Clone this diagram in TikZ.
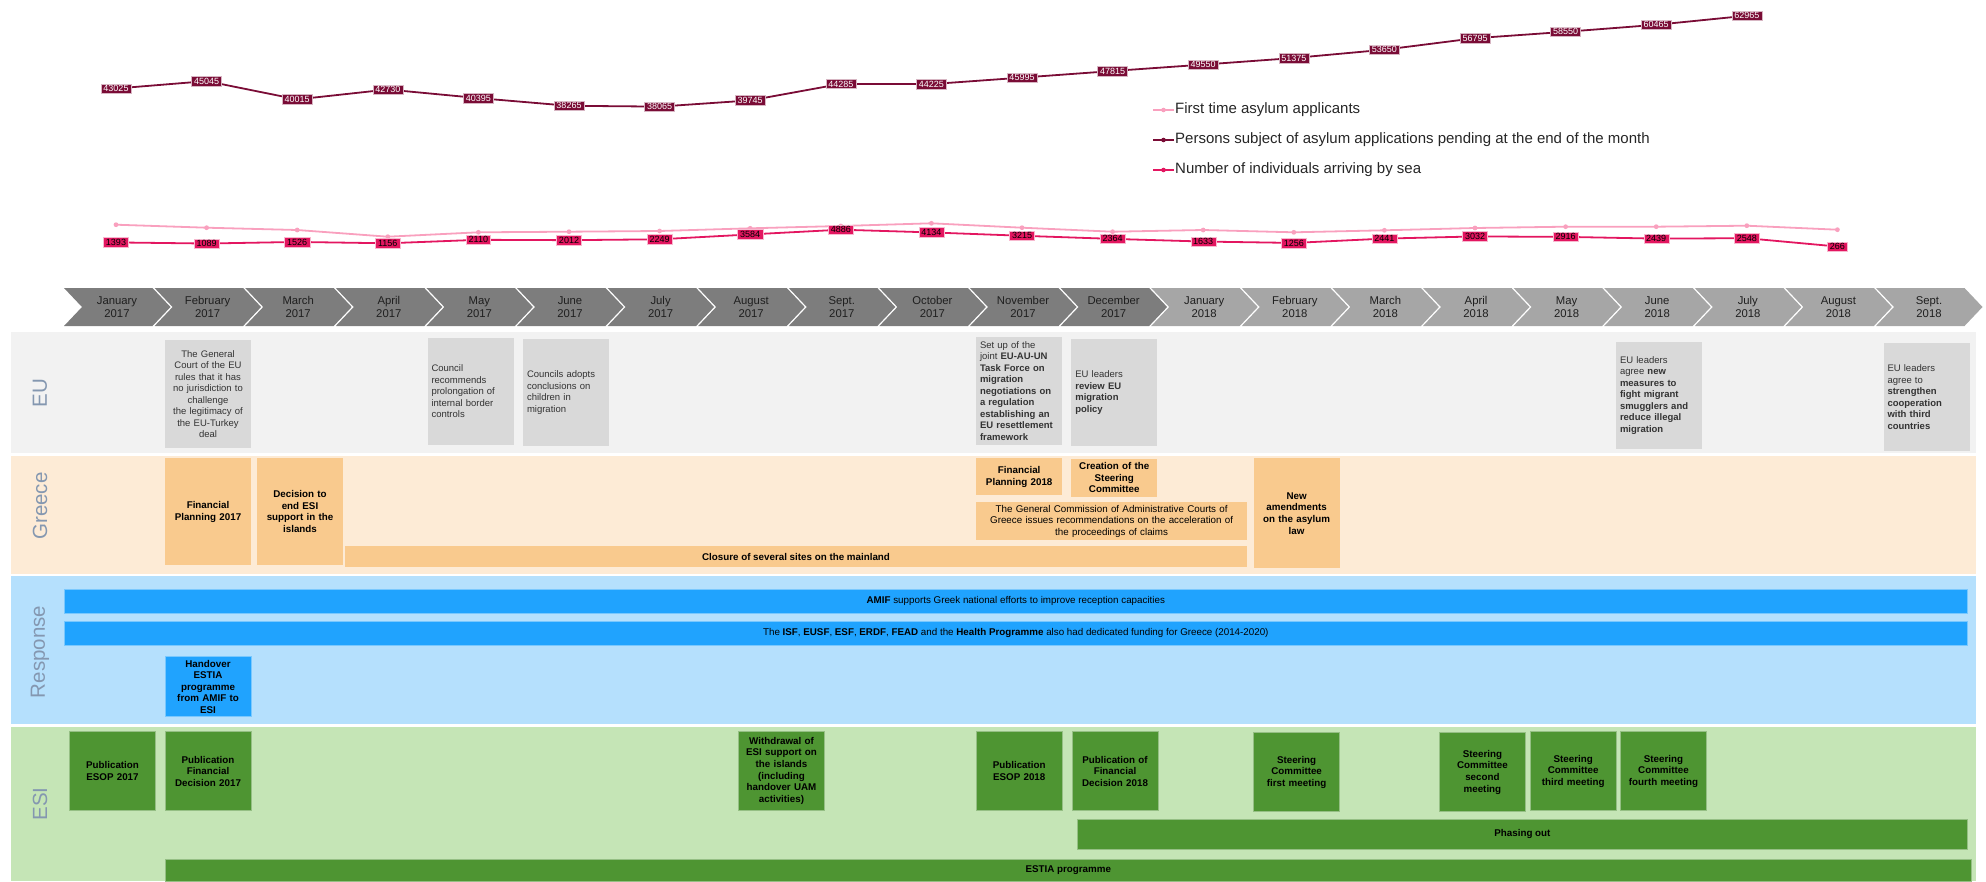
\documentclass[tikz,border=0pt]{standalone}
\usepackage{fontspec}
\setmainfont{Liberation Sans}

\definecolor{pendcol}{RGB}{122,12,54}
\definecolor{seacol}{RGB}{227,22,96}
\definecolor{firstcol}{RGB}{249,160,190}
\definecolor{chev2017}{RGB}{125,125,125}
\definecolor{chev2018}{RGB}{166,166,166}
\definecolor{rowgrey}{RGB}{132,151,176}
\definecolor{eubg}{RGB}{242,242,242}
\definecolor{eufill}{RGB}{217,217,217}
\definecolor{grbg}{RGB}{253,235,214}
\definecolor{grfill}{RGB}{249,202,142}
\definecolor{rebg}{RGB}{181,224,253}
\definecolor{refill}{RGB}{32,163,254}
\definecolor{esbg}{RGB}{197,229,182}
\definecolor{esfill}{RGB}{78,149,50}

% value/y of the pending applications (values too large for pgfmath)
\newcommand\penddata{43025/88.5,45045/81.1,40015/99.4,42730/89.5,40395/98.1,38265/105.8,38065/106.6,39745/100.4,44285/83.9,44225/84.1,45995/77.6,47815/71.0,49550/64.6,51375/58.0,53650/49.7,56795/38.2,58550/31.8,60465/24.8,62965/15.7}
\newcommand\seadata{1393,1089,1526,1156,2110,2012,2249,3584,4886,4134,3215,2364,1633,1256,2441,3032,2916,2439,2548,266}

\tikzset{
  rowlabel/.style={font=\fontsize{20.5}{22}\selectfont, text=rowgrey, rotate=90},
  monthtext/.style={font=\fontsize{11.3}{13.3}\selectfont, text=black!88, align=center, inner sep=0pt},
  evt/.style={font=\fontsize{9.8}{11.6}\selectfont, inner xsep=4pt, inner ysep=1pt,
    text width=78pt, minimum width=86pt, align=center},
  eubox/.style={evt, fill=eufill, text=black!80, font=\fontsize{9.5}{11.5}\selectfont, minimum height=107.5pt},
  grbox/.style={evt, fill=grfill, font=\fontsize{9.8}{11.6}\selectfont\bfseries},
  rebox/.style={evt, fill=refill, draw=white!40!refill, line width=0.6pt, inner ysep=0pt,
    font=\fontsize{9.8}{11.6}\selectfont\bfseries},
  esbox/.style={evt, fill=esfill, draw=white!40!esfill, line width=0.6pt, minimum height=79pt,
    font=\fontsize{9.8}{11.6}\selectfont\bfseries},
  bar/.style={inner sep=0pt, font=\fontsize{9.8}{11.6}\selectfont},
  pendlab/.style={fill=pendcol, draw=white!70!pendcol, line width=0.4pt, text=white,
    font=\fontsize{9}{10}\selectfont, inner xsep=2.5pt, inner ysep=1.6pt},
  sealab/.style={fill=seacol, draw=white!70!seacol, line width=0.4pt, text=black,
    font=\fontsize{9}{10}\selectfont, inner xsep=2.5pt, inner ysep=1.6pt},
  pendline/.style={draw=pendcol, line width=1.8pt, line join=round},
  sealine/.style={draw=seacol, line width=1.8pt, line join=round},
  firstline/.style={draw=firstcol, line width=1.8pt, line join=round},
  legtext/.style={anchor=west, inner sep=1pt, font=\fontsize{15}{17}\selectfont, text=black!85},
  legdot/.style={circle, inner sep=0pt, minimum size=4.6pt}
}

\begin{document}
\begin{tikzpicture}[x=1pt,y=-1pt]
  \useasboundingbox (0,0) rectangle (1986,881);

  % chart: first time applicants
  \foreach[count=\i,evaluate={116+90.6*(\i-1)} as \x] \y in {224.7,227.7,230,236.7,232.3,231.7,231,228.3,226,223.3,227.7,231.7,230,232.3,230.3,228,226.7,226.7,225.7,229.7} {
    \coordinate (f\i) at (\x,\y);
  }
  \draw[firstline] (f1) \foreach \i in {2,...,20} { -- (f\i) };
  \foreach \i in {1,...,20} {
    \fill[firstcol] (f\i) circle (2.4);
  }

  % chart: arrivals by sea
  \foreach[count=\i,evaluate={116+90.6*(\i-1)} as \x,evaluate={247.5-\v*0.00365} as \y] \v in \seadata {
    \coordinate (s\i) at (\x,\y);
  }
  \draw[sealine] (s1) \foreach \i in {2,...,20} { -- (s\i) };
  \foreach[count=\i] \v in \seadata {
    \node[sealab] (sl\i) at (s\i) {\v};
  }

  % chart: pending applications
  \foreach[count=\i,evaluate={116+90.6*(\i-1)} as \x] \v/\y in \penddata {
    \coordinate (p\i) at (\x,\y);
  }
  \draw[pendline] (p1) \foreach \i in {2,...,19} { -- (p\i) };
  \foreach[count=\i] \v/\y in \penddata {
    \node[pendlab] (pl\i) at (p\i) {\v};
  }

  % legend
  \coordinate (lgfirst) at (1153,110);
  \coordinate (lgpend) at (1153,140);
  \coordinate (lgsea) at (1153,170);
  \node[legtext] (ltfirst) at (1174,110) {First time asylum applicants};
  \node[legtext] (ltpend) at (1174,140) {Persons subject of asylum applications pending at the end of the month};
  \node[legtext] (ltsea) at (1174,170) {Number of individuals arriving by sea};
  \draw[firstline] (lgfirst) -- (ltfirst.west) node[pos=0.5,legdot,fill=firstcol] {};
  \draw[pendline] (lgpend) -- (ltpend.west) node[pos=0.5,legdot,fill=pendcol] {};
  \draw[sealine] (lgsea) -- (ltsea.west) node[pos=0.5,legdot,fill=seacol] {};

  % months
  \foreach[count=\i,evaluate={64+90.6*(\i-1)} as \a] \m/\yr in {January/2017,February/2017,March/2017,April/2017,May/2017,June/2017,July/2017,August/2017,Sept./2017,October/2017,November/2017,December/2017,January/2018,February/2018,March/2018,April/2018,May/2018,June/2018,July/2018,August/2018,Sept./2018} {
    \fill[chev\yr] (\a,288) -- ++(88.5,0) -- ++(18,19) -- ++(-18,19) -- ++(-88.5,0) -- ++(18,-19) -- cycle;
    \node[monthtext] (mon\i) at (\a+53,307) {\m\\\yr};
  }

  % rows
  \fill[eubg] (11,332) rectangle (1976,453);
  \fill[grbg] (11,456) rectangle (1976,574);
  \fill[rebg] (11,576) rectangle (1976,724);
  \fill[esbg] (11,727) rectangle (1976,881);
  \node[rowlabel] (laeu) at (40,393) {EU};
  \node[rowlabel] (lagr) at (40,506) {Greece};
  \node[rowlabel] (lare) at (40,652) {Response};
  \node[rowlabel] (laes) at (40,804) {ESI};

  % EU
  \node[eubox] (eucourt) at (208,394) {The General\\Court of the EU\\rules that it has\\no jurisdiction to\\challenge\\the legitimacy of\\the EU-Turkey\\deal};
  \node[eubox,align=left] (euborder) at (470.5,391.5) {Council\\recommends\\prolongation of\\internal border\\controls};
  \node[eubox,align=left] (euchild) at (566,392.5) {Councils adopts\\conclusions on\\children in\\migration};
  \node[eubox,align=left] (eutask) at (1019,391) {Set up of the\\joint \textbf{EU-AU-UN}\\\textbf{Task Force on}\\\textbf{migration}\\\textbf{negotiations on}\\\textbf{a regulation}\\\textbf{establishing an}\\\textbf{EU resettlement}\\\textbf{framework}};
  \node[eubox,align=left] (eureview) at (1114.3,392.5) {EU leaders\\\textbf{review EU}\\\textbf{migration}\\\textbf{policy}};
  \node[eubox,align=left] (eusmug) at (1659,395.5) {EU leaders\\agree \textbf{new}\\\textbf{measures to}\\\textbf{fight migrant}\\\textbf{smugglers and}\\\textbf{reduce illegal}\\\textbf{migration}};
  \node[eubox,align=left] (euthird) at (1926.5,397) {EU leaders\\agree to\\\textbf{strengthen}\\\textbf{cooperation}\\\textbf{with third}\\\textbf{countries}};

  % Greece
  \node[grbox,minimum height=106.7pt] (grplan17) at (208,511.7) {Financial\\Planning 2017};
  \node[grbox,minimum height=107pt] (grdecide) at (300,511.5) {Decision to\\end ESI\\support in the\\islands};
  \node[bar,fill=grfill,minimum width=902pt,minimum height=21.6pt,font=\fontsize{9.8}{11.6}\selectfont\bfseries] (grclose) at (796,556.5) {Closure of several sites on the mainland};
  \node[grbox,minimum height=36.7pt] (grplan18) at (1019.2,476.7) {Financial\\Planning 2018};
  \node[grbox,minimum height=37.7pt] (grsteer) at (1114.3,477.8) {Creation of the\\Steering\\Committee};
  \node[grbox,font=\fontsize{9.8}{11.6}\selectfont,text width=263pt,minimum width=271.3pt,minimum height=37.7pt] (grcourts) at (1111.6,521.2) {The General Commission of Administrative Courts of\\Greece issues recommendations on the acceleration of\\the proceedings of claims};
  \node[grbox,minimum height=110pt] (grlaw) at (1296.6,513.3) {New\\amendments\\on the asylum\\law};

  % Response
  \node[bar,fill=refill,draw=white!40!refill,line width=0.6pt,minimum width=1902.3pt,minimum height=24.3pt] (reamif) at (1015.8,601.2) {\textbf{AMIF} supports Greek national efforts to improve reception capacities};
  \node[bar,fill=refill,draw=white!40!refill,line width=0.6pt,minimum width=1902.3pt,minimum height=23.3pt] (refunds) at (1015.8,633.3) {The \textbf{ISF}, \textbf{EUSF}, \textbf{ESF}, \textbf{ERDF}, \textbf{FEAD} and the \textbf{Health Programme} also had dedicated funding for Greece (2014-2020)};
  \node[rebox,minimum height=60pt] (rehand) at (208,686.7) {Handover\\ESTIA\\programme\\from AMIF to\\ESI};

  % ESI
  \node[esbox] (esesop17) at (112.5,771.2) {Publication\\ESOP 2017};
  \node[esbox] (esfin17) at (208,771.2) {Publication\\Financial\\Decision 2017};
  \node[esbox] (eswith) at (781.5,770.7) {Withdrawal of\\ESI support on\\the islands\\(including\\handover UAM\\activities)};
  \node[esbox] (esesop18) at (1019.2,771.2) {Publication\\ESOP 2018};
  \node[esbox] (esfin18) at (1115,771.2) {Publication of\\Financial\\Decision 2018};
  \node[esbox] (essc1) at (1296.6,772.2) {Steering\\Committee\\first meeting};
  \node[esbox] (essc2) at (1482.4,772.2) {Steering\\Committee\\second\\meeting};
  \node[esbox] (essc3) at (1573.2,771.2) {Steering\\Committee\\third meeting};
  \node[esbox] (essc4) at (1663.5,771.2) {Steering\\Committee\\fourth meeting};
  \node[bar,fill=esfill,draw=white!40!esfill,line width=0.6pt,minimum width=889.3pt,minimum height=30pt,font=\fontsize{9.8}{11.6}\selectfont\bfseries] (esphase) at (1522.4,834.3) {Phasing out};
  \node[bar,fill=esfill,draw=white!40!esfill,line width=0.6pt,minimum width=1806.5pt,minimum height=21.7pt,font=\fontsize{9.8}{11.6}\selectfont\bfseries] (esestia) at (1068.3,870.2) {ESTIA programme};
\end{tikzpicture}
\end{document}
